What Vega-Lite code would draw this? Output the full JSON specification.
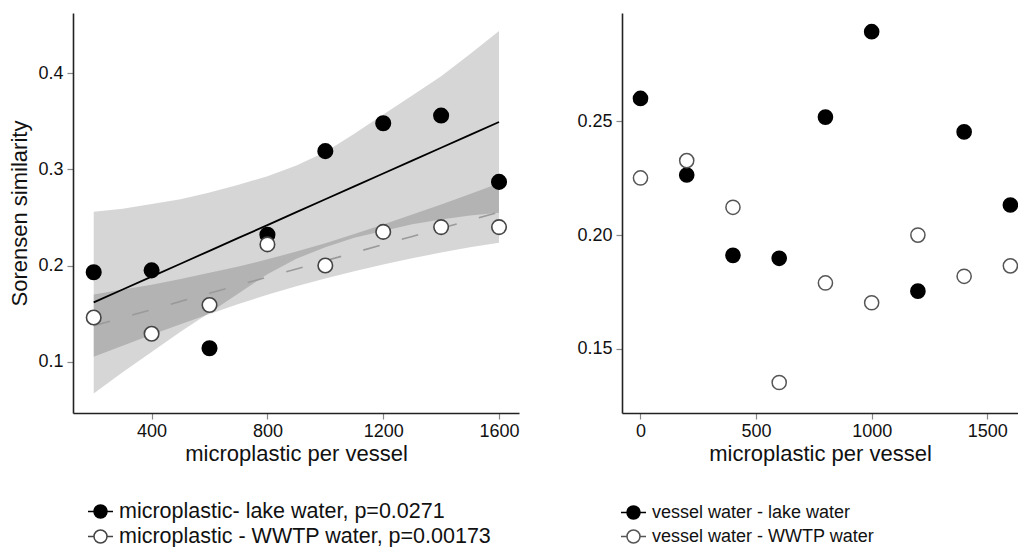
{
  "$schema": "https://vega.github.io/schema/vega-lite/v6.json",
  "background": "white",
  "padding": {"left": 8, "top": 13, "right": 0, "bottom": 0},
  "spacing": 52,
  "config": {
    "view": {"stroke": null},
    "axis": {
      "domainColor": "#222", "domainWidth": 1.6,
      "tickColor": "#888", "tickWidth": 1.2, "tickSize": 6,
      "labelFont": "Liberation Sans", "labelFontSize": 18, "labelColor": "#111", "labelPadding": 3,
      "titleFont": "Liberation Sans", "titleFontSize": 22, "titleFontWeight": "normal", "titleColor": "#111",
      "grid": false
    },
    "legend": {"labelColor": "#111", "labelLimit": 0}
  },
  "datasets": {
    "pts": [
      {"series": "microplastic- lake water, p=0.0271", "x": 200, "y": 0.193},
      {"series": "microplastic- lake water, p=0.0271", "x": 400, "y": 0.195},
      {"series": "microplastic- lake water, p=0.0271", "x": 600, "y": 0.114},
      {"series": "microplastic- lake water, p=0.0271", "x": 800, "y": 0.232},
      {"series": "microplastic- lake water, p=0.0271", "x": 1000, "y": 0.319},
      {"series": "microplastic- lake water, p=0.0271", "x": 1200, "y": 0.348},
      {"series": "microplastic- lake water, p=0.0271", "x": 1400, "y": 0.356},
      {"series": "microplastic- lake water, p=0.0271", "x": 1600, "y": 0.287},
      {"series": "microplastic - WWTP water, p=0.00173", "x": 200, "y": 0.146},
      {"series": "microplastic - WWTP water, p=0.00173", "x": 400, "y": 0.129},
      {"series": "microplastic - WWTP water, p=0.00173", "x": 600, "y": 0.159},
      {"series": "microplastic - WWTP water, p=0.00173", "x": 800, "y": 0.222},
      {"series": "microplastic - WWTP water, p=0.00173", "x": 1000, "y": 0.200},
      {"series": "microplastic - WWTP water, p=0.00173", "x": 1200, "y": 0.235},
      {"series": "microplastic - WWTP water, p=0.00173", "x": 1400, "y": 0.240},
      {"series": "microplastic - WWTP water, p=0.00173", "x": 1600, "y": 0.240}
    ],
    "bands": [
      {"series": "lake", "x": 200, "lo": 0.067, "hi": 0.256, "fit": 0.1617},
      {"series": "lake", "x": 300, "lo": 0.089, "hi": 0.259, "fit": 0.1751},
      {"series": "lake", "x": 400, "lo": 0.110, "hi": 0.264, "fit": 0.1885},
      {"series": "lake", "x": 500, "lo": 0.131, "hi": 0.269, "fit": 0.2019},
      {"series": "lake", "x": 600, "lo": 0.151, "hi": 0.276, "fit": 0.2153},
      {"series": "lake", "x": 700, "lo": 0.171, "hi": 0.284, "fit": 0.2287},
      {"series": "lake", "x": 800, "lo": 0.191, "hi": 0.293, "fit": 0.2421},
      {"series": "lake", "x": 900, "lo": 0.207, "hi": 0.304, "fit": 0.2555},
      {"series": "lake", "x": 1000, "lo": 0.219, "hi": 0.318, "fit": 0.2689},
      {"series": "lake", "x": 1100, "lo": 0.229, "hi": 0.337, "fit": 0.2823},
      {"series": "lake", "x": 1200, "lo": 0.236, "hi": 0.357, "fit": 0.2957},
      {"series": "lake", "x": 1300, "lo": 0.243, "hi": 0.377, "fit": 0.3091},
      {"series": "lake", "x": 1400, "lo": 0.248, "hi": 0.397, "fit": 0.3225},
      {"series": "lake", "x": 1500, "lo": 0.252, "hi": 0.420, "fit": 0.3359},
      {"series": "lake", "x": 1600, "lo": 0.255, "hi": 0.444, "fit": 0.3493},
      {"series": "wwtp", "x": 200, "lo": 0.105, "hi": 0.170, "fit": 0.1373},
      {"series": "wwtp", "x": 300, "lo": 0.1165, "hi": 0.175, "fit": 0.1458},
      {"series": "wwtp", "x": 400, "lo": 0.128, "hi": 0.180, "fit": 0.1542},
      {"series": "wwtp", "x": 500, "lo": 0.139, "hi": 0.186, "fit": 0.1627},
      {"series": "wwtp", "x": 600, "lo": 0.1497, "hi": 0.1925, "fit": 0.1711},
      {"series": "wwtp", "x": 700, "lo": 0.160, "hi": 0.199, "fit": 0.1796},
      {"series": "wwtp", "x": 800, "lo": 0.1695, "hi": 0.2065, "fit": 0.1880},
      {"series": "wwtp", "x": 900, "lo": 0.1785, "hi": 0.2145, "fit": 0.1965},
      {"series": "wwtp", "x": 1000, "lo": 0.1865, "hi": 0.2233, "fit": 0.2049},
      {"series": "wwtp", "x": 1100, "lo": 0.194, "hi": 0.2328, "fit": 0.2134},
      {"series": "wwtp", "x": 1200, "lo": 0.201, "hi": 0.2426, "fit": 0.2218},
      {"series": "wwtp", "x": 1300, "lo": 0.2075, "hi": 0.253, "fit": 0.2303},
      {"series": "wwtp", "x": 1400, "lo": 0.2135, "hi": 0.2635, "fit": 0.2387},
      {"series": "wwtp", "x": 1500, "lo": 0.219, "hi": 0.2745, "fit": 0.2472},
      {"series": "wwtp", "x": 1600, "lo": 0.2236, "hi": 0.2855, "fit": 0.2556}
    ],
    "pts2": [
      {"series": "vessel water - lake water", "x": 0, "y": 0.260},
      {"series": "vessel water - lake water", "x": 200, "y": 0.2264},
      {"series": "vessel water - lake water", "x": 400, "y": 0.1911},
      {"series": "vessel water - lake water", "x": 600, "y": 0.1898},
      {"series": "vessel water - lake water", "x": 800, "y": 0.2518},
      {"series": "vessel water - lake water", "x": 1000, "y": 0.2893},
      {"series": "vessel water - lake water", "x": 1200, "y": 0.1754},
      {"series": "vessel water - lake water", "x": 1400, "y": 0.2453},
      {"series": "vessel water - lake water", "x": 1600, "y": 0.2132},
      {"series": "vessel water - WWTP water", "x": 0, "y": 0.2251},
      {"series": "vessel water - WWTP water", "x": 200, "y": 0.2327},
      {"series": "vessel water - WWTP water", "x": 400, "y": 0.2122},
      {"series": "vessel water - WWTP water", "x": 600, "y": 0.1353},
      {"series": "vessel water - WWTP water", "x": 800, "y": 0.1790},
      {"series": "vessel water - WWTP water", "x": 1000, "y": 0.1703},
      {"series": "vessel water - WWTP water", "x": 1200, "y": 0.2000},
      {"series": "vessel water - WWTP water", "x": 1400, "y": 0.1819},
      {"series": "vessel water - WWTP water", "x": 1600, "y": 0.1865}
    ]
  },
  "hconcat": [
    {
      "width": 446,
      "height": 400,
      "encoding": {
        "x": {"field": "x", "type": "quantitative", "scale": {"domain": [128.5, 1669], "nice": false, "zero": false},
              "axis": {"values": [400, 800, 1200, 1600], "format": "d", "title": "microplastic per vessel", "titlePadding": 3}}
      },
      "layer": [
        {
          "data": {"name": "bands"},
          "transform": [{"filter": "datum.series === 'lake'"}],
          "mark": {"type": "area", "fill": "black", "opacity": 0.16},
          "encoding": {
            "y": {"field": "lo", "type": "quantitative", "scale": {"domain": [0.0466, 0.4627], "nice": false, "zero": false},
                  "axis": {"values": [0.1, 0.2, 0.3, 0.4], "format": ".1f", "title": "Sorensen similarity", "labelPadding": 4, "titlePadding": 6}},
            "y2": {"field": "hi"}
          }
        },
        {
          "data": {"name": "bands"},
          "transform": [{"filter": "datum.series === 'wwtp'"}],
          "mark": {"type": "area", "fill": "black", "opacity": 0.16},
          "encoding": {
            "y": {"field": "lo", "type": "quantitative"},
            "y2": {"field": "hi"}
          }
        },
        {
          "data": {"name": "bands"},
          "transform": [{"filter": "datum.series === 'lake'"}],
          "mark": {"type": "line", "color": "black", "strokeWidth": 1.8},
          "encoding": {
            "y": {"field": "fit", "type": "quantitative"}
          }
        },
        {
          "data": {"name": "bands"},
          "transform": [{"filter": "datum.series === 'wwtp'"}],
          "mark": {"type": "line", "color": "#9a9a9a", "strokeWidth": 1.6, "strokeDash": [17, 23]},
          "encoding": {
            "y": {"field": "fit", "type": "quantitative"}
          }
        },
        {
          "data": {"name": "pts"},
          "mark": {"type": "circle", "size": 210, "opacity": 1, "strokeWidth": 1.6},
          "encoding": {
            "y": {"field": "y", "type": "quantitative"},
            "fill": {"field": "series", "type": "nominal",
                     "scale": {"domain": ["microplastic- lake water, p=0.0271", "microplastic - WWTP water, p=0.00173"], "range": ["black", "white"]},
                     "legend": {"orient": "none", "legendX": 14, "legendY": 485, "title": null, "direction": "vertical",
                                "symbolType": "M-1,0L-0.52,0M0.52,0L1,0M-0.52,0A0.52,0.52,0,1,1,0.52,0A0.52,0.52,0,1,1,-0.52,0Z",
                                "symbolSize": 625, "symbolStrokeWidth": 1.5, "labelFont": "Liberation Sans", "labelFontSize": 21.5,
                                "labelOffset": 5, "rowPadding": 1, "labelLimit": 0}},
            "stroke": {"field": "series", "type": "nominal",
                       "scale": {"domain": ["microplastic- lake water, p=0.0271", "microplastic - WWTP water, p=0.00173"], "range": ["black", "#444"]},
                       "legend": {"orient": "none", "legendX": 14, "legendY": 485, "title": null, "direction": "vertical",
                                "symbolType": "M-1,0L-0.52,0M0.52,0L1,0M-0.52,0A0.52,0.52,0,1,1,0.52,0A0.52,0.52,0,1,1,-0.52,0Z",
                                "symbolSize": 625, "symbolStrokeWidth": 1.5, "labelFont": "Liberation Sans", "labelFontSize": 21.5,
                                "labelOffset": 5, "rowPadding": 1, "labelLimit": 0}}
          }
        }
      ]
    },
    {
      "width": 396,
      "height": 400,
      "data": {"name": "pts2"},
      "mark": {"type": "circle", "size": 200, "opacity": 1, "strokeWidth": 1.5, "clip": true},
      "encoding": {
        "x": {"field": "x", "type": "quantitative", "scale": {"domain": [-80, 1633], "nice": false, "zero": false},
              "axis": {"values": [0, 500, 1000, 1500], "format": "d", "title": "microplastic per vessel", "titlePadding": 3}},
        "y": {"field": "y", "type": "quantitative", "scale": {"domain": [0.1219, 0.2975], "nice": false, "zero": false},
              "axis": {"values": [0.15, 0.2, 0.25], "format": ".2f", "title": null, "labelPadding": 4, "minExtent": 50, "maxExtent": 50}},
        "fill": {"field": "series", "type": "nominal",
                 "scale": {"domain": ["vessel water - lake water", "vessel water - WWTP water"], "range": ["black", "white"]},
                 "legend": {"orient": "none", "legendX": -2, "legendY": 486, "title": null, "direction": "vertical",
                            "symbolType": "M-1,0L-0.52,0M0.52,0L1,0M-0.52,0A0.52,0.52,0,1,1,0.52,0A0.52,0.52,0,1,1,-0.52,0Z",
                            "symbolSize": 625, "symbolStrokeWidth": 1.5, "labelFont": "Liberation Sans", "labelFontSize": 18,
                            "labelOffset": 5, "rowPadding": 1, "labelLimit": 0}},
        "stroke": {"field": "series", "type": "nominal",
                   "scale": {"domain": ["vessel water - lake water", "vessel water - WWTP water"], "range": ["black", "#555"]},
                   "legend": {"orient": "none", "legendX": -2, "legendY": 486, "title": null, "direction": "vertical",
                            "symbolType": "M-1,0L-0.52,0M0.52,0L1,0M-0.52,0A0.52,0.52,0,1,1,0.52,0A0.52,0.52,0,1,1,-0.52,0Z",
                            "symbolSize": 625, "symbolStrokeWidth": 1.5, "labelFont": "Liberation Sans", "labelFontSize": 18,
                            "labelOffset": 5, "rowPadding": 1, "labelLimit": 0}}
      }
    }
  ],
  "resolve": {
    "scale": {"x": "independent", "y": "independent", "fill": "independent", "stroke": "independent"},
    "legend": {"fill": "independent", "stroke": "independent"}
  }
}
